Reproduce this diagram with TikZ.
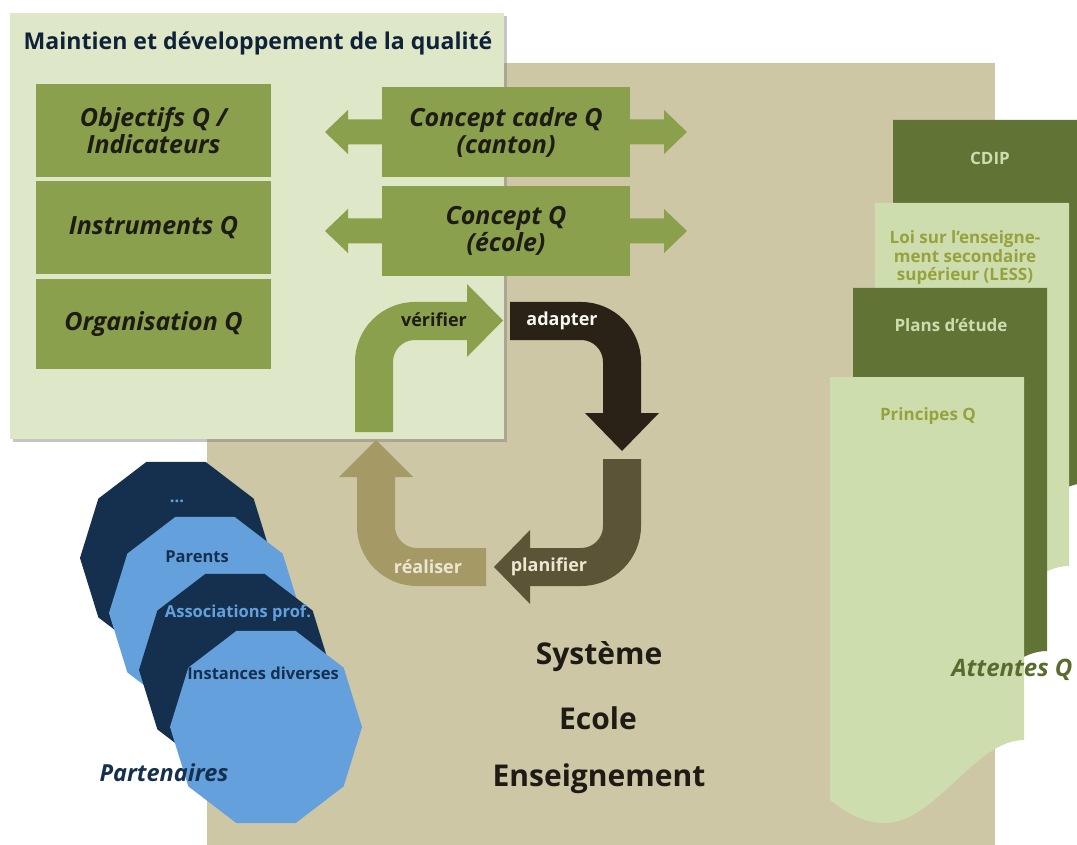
\documentclass[tikz,border=0pt]{standalone}
\usepackage{fontspec}
\setmainfont{Open Sans}
\usetikzlibrary{shadows,calc}
\definecolor{beige}{HTML}{CEC7A6}
\definecolor{panel}{HTML}{DFE7C9}
\definecolor{olive}{HTML}{8AA04C}
\definecolor{docdark}{HTML}{627336}
\definecolor{doclight}{HTML}{CDDDAE}
\definecolor{arrdark}{HTML}{2A2216}
\definecolor{arrbrown}{HTML}{5C5436}
\definecolor{arrtan}{HTML}{A59A66}
\definecolor{navy}{HTML}{15304F}
\definecolor{lblue}{HTML}{64A0DC}
\definecolor{txtdark}{HTML}{1E1A14}
\definecolor{doctxt}{HTML}{97A23E}
\definecolor{attente}{HTML}{5A6B2E}
\definecolor{cyclelight}{HTML}{ECE6D2}
\newcommand\fsz[2]{\fontsize{#1}{#2}\selectfont}
\newcommand\docshape[3]{%
  \fill[#3, shift={(#1,#2)}] (0,0) -- (194,0) -- (194,363)
    .. controls (145,363) and (105,446) .. (55,446)
    .. controls (30,446) and (12,432) .. (0,423) -- cycle;}
\newcommand\decagon[2]{%
  \fill[#2, shift={(#1)}] (0:96 and 101) -- (36:96 and 101) -- (72:96 and 101)
    -- (108:96 and 101) -- (144:96 and 101) -- (180:96 and 101) -- (216:96 and 101)
    -- (252:96 and 101) -- (288:96 and 101) -- (324:96 and 101) -- cycle;}
\begin{document}
\begin{tikzpicture}[x=1pt,y=-1pt,
  qbox/.style={fill=olive, inner sep=0pt, align=center, text=txtdark,
    font=\bfseries\itshape\fsz{25}{27}},
  cyclab/.style={font=\bfseries\fsz{18}{20}},
  declab/.style={font=\bfseries\fsz{16.5}{18}},
  doclab/.style={font=\bfseries\fsz{17}{18.5}, align=center},
  biglab/.style={font=\bfseries\fsz{30}{34}, text=txtdark},
  shaft/.style={line width=38pt, rounded corners=41pt}]
\useasboundingbox (0,0) rectangle (1077,845);
\clip (0,0) rectangle (1077,845);
\fill[white] (0,0) rectangle (1077,845);
% background system area
\fill[beige] (207,63) rectangle (995,845);
% documents (attentes Q)
\docshape{893}{120}{docdark}
\docshape{875}{203}{doclight}
\docshape{853}{288}{docdark}
\docshape{830}{377}{doclight}
\node[doclab, text=doclight] (cdip) at (990,158) {CDIP};
\node[doclab, text=doctxt] (less) at (965,258) {Loi sur l'enseigne-\\ment secondaire\\supérieur (LESS)};
\node[doclab, text=doclight] (plans) at (951,325) {Plans d’étude};
\node[doclab, text=doctxt] (princ) at (928,416) {Principes Q};
\node[font=\bfseries\itshape\fsz{24}{27}, text=attente] (att) at (1012,670) {Attentes Q};
% panel
\path[fill=panel, drop shadow={shadow xshift=3pt, shadow yshift=-3pt, opacity=0.45}] (10,13) rectangle (504,439);
\node[font=\bfseries\fsz{23.1}{26}, text=navy!70!black] (title) at (258,43) {Maintien et développement de la qualité};
% left boxes
\node[qbox, minimum width=235pt, minimum height=93pt] (obj) at (153.5,130.5) {Objectifs Q /\\Indicateurs};
\node[qbox, minimum width=235pt, minimum height=93pt] (ins) at (153.5,227.5) {Instruments Q};
\node[qbox, minimum width=235pt, minimum height=90pt] (org) at (153.5,324) {Organisation Q};
% concept boxes with double arrows
\coordinate (c1) at (506,132);
\coordinate (c2) at (506,231);
\foreach \c in {c1,c2}{
  \fill[olive, shift={(\c)}] (-181,0) -- (-158,-22) -- (-158,-12.5) -- (158,-12.5) -- (158,-22)
    -- (181,0) -- (158,22) -- (158,12.5) -- (-158,12.5) -- (-158,22) -- cycle;}
\node[qbox, minimum width=248pt, minimum height=90pt] (cc1) at (c1) {Concept cadre Q\\(canton)};
\node[qbox, minimum width=248pt, minimum height=90pt] (cc2) at (c2) {Concept Q\\(école)};
% cycle arrows
\coordinate (k1) at (374,321);
\coordinate (k2) at (622,321);
\coordinate (k3) at (622,567);
\coordinate (k4) at (376,567);
\draw[shaft, olive] (374,432) -- (k1) -- (468,321);
\fill[olive] (467,284) -- (503,320.5) -- (467,357) -- cycle;
\draw[shaft, arrdark] (510,321) -- (k2) -- (622,414);
\fill[arrdark] (585,413) -- (622,451) -- (659,413) -- cycle;
\draw[shaft, arrbrown] (622,459) -- (k3) -- (529,567);
\fill[arrbrown] (530,530) -- (494,567) -- (530,604) -- cycle;
\draw[shaft, arrtan] (486,567) -- (k4) -- (376,476);
\fill[arrtan] (339,477) -- (376,440) -- (413,477) -- cycle;
\node[cyclab, text=txtdark] (ver) at (434,320) {vérifier};
\node[cyclab, text=white!92!olive] (ada) at (562,321) {adapter};
\node[cyclab, text=cyclelight] (pla) at (549,567) {planifier};
\node[cyclab, text=cyclelight] (rea) at (428,567) {réaliser};
% partenaires
\coordinate (d1) at (176,558);
\coordinate (d2) at (205,613);
\coordinate (d3) at (235,670);
\coordinate (d4) at (266,727);
\decagon{d1}{navy}
\node[declab, text=lblue] (dots) at (177,501) {...};
\decagon{d2}{lblue}
\node[declab, text=navy] (par) at (197,557) {Parents};
\decagon{d3}{navy}
\node[declab, text=lblue] (ass) at (238,613) {Associations prof.};
\decagon{d4}{lblue}
\node[declab, text=navy] (inst) at (263,673) {Instances diverses};
\node[font=\bfseries\itshape\fsz{23.5}{26}, text=navy] (part) at (164,773) {Partenaires};
% system labels
\node[biglab] (sys) at (599,657) {Système};
\node[biglab] (eco) at (598,718) {Ecole};
\node[biglab] (ens) at (599,779) {Enseignement};
\end{tikzpicture}
\end{document}
